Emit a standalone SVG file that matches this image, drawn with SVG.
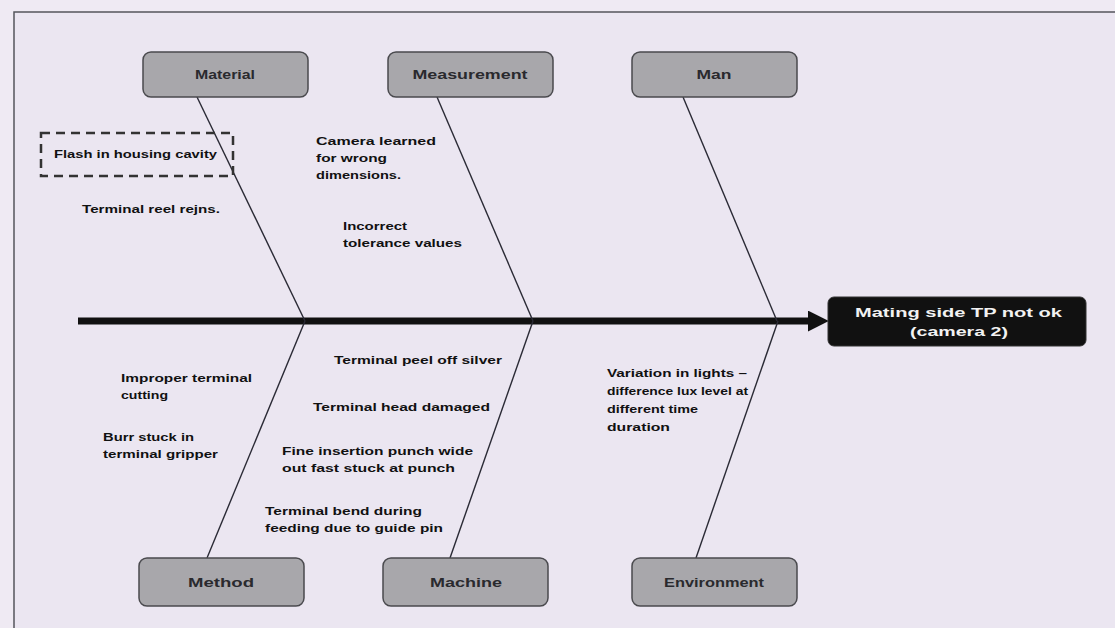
<svg xmlns="http://www.w3.org/2000/svg" width="1115" height="628" viewBox="0 0 1115 628">
<defs>
<style>
.cat rect{fill:#a8a7ab;stroke:#4a4a4e;stroke-width:1.5}
.cat text{font-family:"Liberation Sans",Arial,sans-serif;font-size:12px;font-weight:bold;fill:#2a2a2e;text-anchor:middle}
.lbl{font-family:"Liberation Sans",Arial,sans-serif;font-size:11.5px;font-weight:bold;fill:#111}
.bone{stroke:#2a2a35;stroke-width:1.4;fill:none}
</style>
<marker id="ah" viewBox="0 0 10 10" refX="2" refY="5" markerWidth="3" markerHeight="3" orient="auto" markerUnits="strokeWidth">
<path d="M0,0 L10,5 L0,10 Z" fill="#111"/>
</marker>
</defs>
<rect x="0" y="0" width="1115" height="628" fill="#efeaf3"/>
<rect x="14" y="12" width="1110" height="620" fill="#ebe6f1" stroke="#55555c" stroke-width="1.5"/>

<g id="connectors">
<line x1="78" y1="321" x2="812" y2="321" stroke="#111" stroke-width="7" marker-end="url(#ah)"/>
<line class="bone" x1="197" y1="97" x2="305" y2="321"/>
<line class="bone" x1="437" y1="97" x2="533" y2="321"/>
<line class="bone" x1="683" y1="97" x2="777" y2="321"/>
<line class="bone" x1="305" y1="321" x2="207" y2="558"/>
<line class="bone" x1="533" y1="321" x2="450" y2="558"/>
<line class="bone" x1="778" y1="321" x2="696" y2="558"/>
</g>

<g id="effect">
<rect x="828" y="297" width="258" height="49" rx="6" fill="#111" stroke="#333"/>
<text x="855" y="317" textLength="207" lengthAdjust="spacingAndGlyphs" font-family="'Liberation Sans',Arial,sans-serif" font-size="13" font-weight="bold" fill="#f2f2f2">Mating side TP not ok</text>
<text x="910" y="336" textLength="98" lengthAdjust="spacingAndGlyphs" font-family="'Liberation Sans',Arial,sans-serif" font-size="13" font-weight="bold" fill="#f2f2f2">(camera 2)</text>
</g>

<g id="material" class="cat"><rect x="143" y="52" width="165" height="45" rx="8"/><text x="225" y="79" textLength="60" lengthAdjust="spacingAndGlyphs">Material</text></g>
<g id="measurement" class="cat"><rect x="388" y="52" width="165" height="45" rx="8"/><text x="470" y="79" textLength="115" lengthAdjust="spacingAndGlyphs">Measurement</text></g>
<g id="man" class="cat"><rect x="632" y="52" width="165" height="45" rx="8"/><text x="714" y="79" textLength="35" lengthAdjust="spacingAndGlyphs">Man</text></g>
<g id="method" class="cat"><rect x="139" y="558" width="165" height="48" rx="8"/><text x="221" y="587" textLength="66" lengthAdjust="spacingAndGlyphs">Method</text></g>
<g id="machine" class="cat"><rect x="383" y="558" width="165" height="48" rx="8"/><text x="466" y="587" textLength="72" lengthAdjust="spacingAndGlyphs">Machine</text></g>
<g id="environment" class="cat"><rect x="632" y="558" width="165" height="48" rx="8"/><text x="714" y="587" textLength="100" lengthAdjust="spacingAndGlyphs" font-weight="normal">Environment</text></g>

<g id="flash">
<rect x="41" y="133" width="192" height="43" fill="none" stroke="#333" stroke-width="2.5" stroke-dasharray="9,6"/>
<text class="lbl" x="54" y="158" textLength="163" lengthAdjust="spacingAndGlyphs" font-weight="normal">Flash in housing cavity</text>
</g>
<g id="reel"><text class="lbl" x="82" y="213" textLength="138" lengthAdjust="spacingAndGlyphs">Terminal reel rejns.</text></g>
<g id="camera">
<text class="lbl" x="316" y="145" textLength="120" lengthAdjust="spacingAndGlyphs">Camera learned</text>
<text class="lbl" x="316" y="162" textLength="71" lengthAdjust="spacingAndGlyphs">for wrong</text>
<text class="lbl" x="316" y="179" textLength="85" lengthAdjust="spacingAndGlyphs">dimensions.</text>
</g>
<g id="tolerance">
<text class="lbl" x="343" y="230" textLength="64" lengthAdjust="spacingAndGlyphs">Incorrect</text>
<text class="lbl" x="343" y="247" textLength="119" lengthAdjust="spacingAndGlyphs">tolerance values</text>
</g>
<g id="cutting">
<text class="lbl" x="121" y="382" textLength="131" lengthAdjust="spacingAndGlyphs">Improper terminal</text>
<text class="lbl" x="121" y="399" textLength="47" lengthAdjust="spacingAndGlyphs">cutting</text>
</g>
<g id="burr">
<text class="lbl" x="103" y="441" textLength="91" lengthAdjust="spacingAndGlyphs">Burr stuck in</text>
<text class="lbl" x="103" y="458" textLength="115" lengthAdjust="spacingAndGlyphs">terminal gripper</text>
</g>
<g id="peel"><text class="lbl" x="334" y="364" textLength="168" lengthAdjust="spacingAndGlyphs">Terminal peel off silver</text></g>
<g id="head"><text class="lbl" x="313" y="411" textLength="177" lengthAdjust="spacingAndGlyphs">Terminal head damaged</text></g>
<g id="punch">
<text class="lbl" x="282" y="455" textLength="191" lengthAdjust="spacingAndGlyphs">Fine insertion punch wide</text>
<text class="lbl" x="282" y="472" textLength="173" lengthAdjust="spacingAndGlyphs">out fast stuck at punch</text>
</g>
<g id="bend">
<text class="lbl" x="265" y="515" textLength="157" lengthAdjust="spacingAndGlyphs">Terminal bend during</text>
<text class="lbl" x="265" y="532" textLength="178" lengthAdjust="spacingAndGlyphs">feeding due to guide pin</text>
</g>
<g id="lights">
<text class="lbl" x="607" y="377" textLength="140" lengthAdjust="spacingAndGlyphs">Variation in lights –</text>
<text class="lbl" x="607" y="395" textLength="141" lengthAdjust="spacingAndGlyphs">difference lux level at</text>
<text class="lbl" x="607" y="413" textLength="91" lengthAdjust="spacingAndGlyphs">different time</text>
<text class="lbl" x="607" y="431" textLength="63" lengthAdjust="spacingAndGlyphs">duration</text>
</g>
</svg>
